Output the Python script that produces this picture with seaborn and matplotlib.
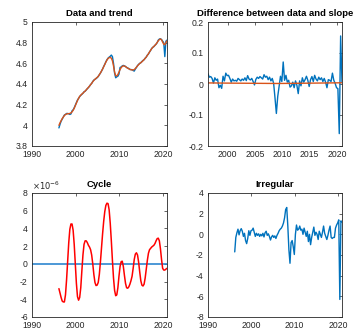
import numpy as np
import pandas as pd
import matplotlib
matplotlib.use("Agg")
import matplotlib.pyplot as plt
import seaborn as sns

# ---------------- data (quarterly, 1996Q1 .. 2020Q4) ----------------
first_date = 1996 + 2 / 12
n_quarters = 100

data_level = [
    3.975, 4.010, 4.040, 4.060, 4.080, 4.100, 4.105, 4.115, 4.115, 4.112,
    4.105, 4.110, 4.140, 4.150, 4.170, 4.195, 4.220, 4.245, 4.260, 4.278,
    4.290, 4.300, 4.310, 4.325, 4.330, 4.342, 4.355, 4.365, 4.378, 4.395,
    4.405, 4.425, 4.438, 4.445, 4.452, 4.462, 4.472, 4.490, 4.505, 4.525,
    4.545, 4.570, 4.590, 4.615, 4.635, 4.650, 4.660, 4.668, 4.680, 4.665,
    4.600, 4.505, 4.460, 4.470, 4.475, 4.495, 4.560, 4.565, 4.575, 4.580,
    4.575, 4.570, 4.560, 4.555, 4.550, 4.540, 4.540, 4.538, 4.530, 4.525,
    4.545, 4.560, 4.578, 4.590, 4.600, 4.605, 4.618, 4.628, 4.635, 4.650,
    4.660, 4.680, 4.690, 4.710, 4.725, 4.745, 4.755, 4.762, 4.775, 4.785,
    4.800, 4.825, 4.835, 4.838, 4.830, 4.815, 4.800, 4.665, 4.815, 4.825,
]

trend_level = [
    4.000, 4.025, 4.045, 4.065, 4.080, 4.095, 4.105, 4.110, 4.112, 4.113,
    4.115, 4.120, 4.130, 4.145, 4.165, 4.190, 4.215, 4.240, 4.262, 4.280,
    4.292, 4.302, 4.312, 4.322, 4.332, 4.343, 4.355, 4.367, 4.380, 4.393,
    4.407, 4.422, 4.435, 4.446, 4.455, 4.463, 4.475, 4.490, 4.507, 4.525,
    4.545, 4.567, 4.590, 4.612, 4.632, 4.647, 4.655, 4.657, 4.650, 4.625,
    4.575, 4.515, 4.480, 4.478, 4.492, 4.515, 4.540, 4.558, 4.570, 4.575,
    4.574, 4.568, 4.560, 4.553, 4.547, 4.542, 4.538, 4.536, 4.536, 4.540,
    4.550, 4.563, 4.576, 4.588, 4.598, 4.607, 4.615, 4.625, 4.636, 4.648,
    4.662, 4.677, 4.693, 4.710, 4.727, 4.742, 4.755, 4.765, 4.775, 4.787,
    4.802, 4.818, 4.830, 4.836, 4.828, 4.805, 4.785, 4.780, 4.800, 4.818,
]

# difference of data (1996Q2 .. 2020Q4)
data_diff = [
    0.033, 0.022, 0.024, 0.018, 0.003, 0.020, 0.012, 0.016, -0.012, -0.004,
    -0.014, 0.025, 0.010, 0.035, 0.027, 0.028, 0.018, 0.006, 0.016, 0.010,
    0.012, 0.009, 0.018, 0.014, 0.010, 0.016, 0.012, 0.020, 0.011, 0.027,
    0.016, 0.013, 0.018, 0.008, -0.003, 0.015, 0.022, 0.018, 0.024, 0.020,
    0.016, 0.030, 0.022, 0.025, 0.014, 0.022, 0.010, 0.018, 0.002, -0.045,
    -0.095, -0.040, -0.008, 0.025, 0.008, 0.071, 0.012, 0.028, 0.006, 0.012,
    -0.010, -0.006, 0.006, -0.012, 0.010, -0.004, -0.031, 0.010, -0.006, 0.020,
    0.006, 0.014, 0.025, 0.012, -0.008, 0.014, 0.024, 0.008, 0.028, 0.016,
    0.010, 0.022, 0.014, 0.020, 0.008, 0.018, 0.006, -0.012, 0.014, 0.012,
    0.008, 0.035, 0.012, 0.002, -0.012, -0.015, -0.160, 0.155, 0.005,
]

slope = [
    0.0035, 0.0035, 0.0034, 0.0034, 0.0033, 0.0033, 0.0032, 0.0032, 0.0031, 0.0031,
    0.0030, 0.0030, 0.0030, 0.0029, 0.0029, 0.0029, 0.0028, 0.0028, 0.0028, 0.0027,
    0.0027, 0.0027, 0.0026, 0.0026, 0.0026, 0.0025, 0.0025, 0.0025, 0.0024, 0.0024,
    0.0024, 0.0023, 0.0023, 0.0023, 0.0022, 0.0022, 0.0022, 0.0021, 0.0021, 0.0021,
    0.0020, 0.0020, 0.0020, 0.0019, 0.0019, 0.0019, 0.0018, 0.0018, 0.0018, 0.0017,
    0.0017, 0.0017, 0.0017, 0.0018, 0.0018, 0.0018, 0.0019, 0.0019, 0.0019, 0.0020,
    0.0020, 0.0021, 0.0021, 0.0022, 0.0022, 0.0023, 0.0023, 0.0024, 0.0024, 0.0025,
    0.0025, 0.0026, 0.0026, 0.0027, 0.0027, 0.0028, 0.0028, 0.0029, 0.0029, 0.0030,
    0.0030, 0.0031, 0.0031, 0.0032, 0.0032, 0.0033, 0.0033, 0.0034, 0.0034, 0.0035,
    0.0035, 0.0036, 0.0036, 0.0037, 0.0037, 0.0038, 0.0038, 0.0038, 0.0039,
]

# cycle, in units of 1e-6
cycle_e6 = [
    -2.8, -3.3, -3.8, -4.2, -4.3, -4.3, -3.5, -1.8, 0.3, 2.4,
    3.9, 4.5, 4.5, 3.8, 2.2, 0.0, -2.2, -3.7, -4.1, -3.8,
    -2.7, -0.8, 1.0, 2.2, 2.6, 2.6, 2.4, 2.1, 1.9, 1.6,
    1.0, 0.0, -1.2, -2.1, -2.45, -2.4, -2.1, -1.2, 0.2, 1.8,
    3.4, 4.8, 5.9, 6.6, 6.85, 6.8, 6.1, 4.6, 2.6, 0.4,
    -1.6, -3.0, -3.6, -3.5, -2.7, -1.4, -0.3, 0.25, 0.3, -0.3,
    -1.3, -2.2, -2.7, -2.75, -2.6, -2.3, -1.9, -1.4, -0.5, 0.5,
    1.1, 1.25, 1.0, 0.2, -0.9, -1.9, -2.4, -2.5, -2.3, -1.6,
    -0.6, 0.4, 1.2, 1.6, 1.75, 1.9, 2.0, 2.1, 2.3, 2.6,
    2.85, 2.9, 2.6, 1.7, 0.5, -0.5, -0.7, -0.7, -0.6, -0.5,
]

irregular = [
    -1.7, -0.3, 0.15, 0.5, -0.05, 0.35, 0.55, 0.3, -0.2, 0.1,
    -0.6, -0.9, -0.4, 0.35, -0.1, 0.35, 0.4, 0.6, 0.2, -0.2,
    0.1, -0.1, 0.05, -0.2, 0.0, -0.15, 0.1, -0.25, 0.15, 0.3,
    -0.1, 0.05, -0.2, -0.55, -0.25, -0.1, -0.3, -0.15, -0.4, -0.1,
    0.1, 0.35, 0.5, 0.6, 0.8, 1.1, 1.6, 2.4, 2.6, 0.8,
    -1.5, -2.8, -0.8, -0.6, -1.2, -1.95, 0.0, 0.9, 0.4, 0.5,
    0.8, 0.4, 0.5, 0.0, 0.6, 0.2, -0.2, 0.3, -0.7, 0.0,
    -1.0, -0.3, 0.2, 0.7, -0.1, 0.2, 0.0, -0.5, 0.3, 0.0,
    -0.3, 0.2, 0.8, 0.1, -0.2, -0.5, -0.1, 0.4, 0.8, -0.3,
    -0.4, -0.3, -0.3, 0.6, 0.9, 1.1, 1.4, -6.3, 1.3, 1.2,
]

titles = ["Data and trend", "Difference between data and slope", "Cycle", "Irregular"]

# ---------------- style ----------------
sns.set_style("white")
plt.rcParams["font.family"] = ["Liberation Sans", "DejaVu Sans"]
plt.rcParams["axes.unicode_minus"] = False

BLUE = "#0072BD"
ORANGE = "#D95319"
RED = "#FF0000"
AXC = "#262626"

dates = first_date + 0.25 * np.arange(n_quarters)
df = pd.DataFrame({"date": dates, "data": data_level, "trend": trend_level,
                   "cycle": np.array(cycle_e6) * 1e-6, "irregular": irregular})
df_d = pd.DataFrame({"date": dates[1:], "diff": data_diff, "slope": slope})

fig = plt.figure(figsize=(3.55, 3.29), dpi=100)
W, H = 355, 329
def add_ax(l, r, t, b):
    return fig.add_axes([l / W, 1 - b / H, (r - l) / W, (b - t) / H])

ax1 = add_ax(32, 167, 22, 146)
ax2 = add_ax(208, 342, 22, 146)
ax3 = add_ax(32, 167, 193, 317)
ax4 = add_ax(208, 342, 193, 317)

sns.lineplot(data=df, x="date", y="data", ax=ax1, color=BLUE, lw=1.0)
sns.lineplot(data=df, x="date", y="trend", ax=ax1, color=ORANGE, lw=1.0)
ax1.set_xlim(1990, dates[-1])
ax1.set_ylim(3.8, 5)
ax1.set_xticks([1990, 2000, 2010, 2020])
ax1.set_yticks([3.8, 4, 4.2, 4.4, 4.6, 4.8, 5])
ax1.set_yticklabels(["3.8", "4", "4.2", "4.4", "4.6", "4.8", "5"])

sns.lineplot(data=df_d, x="date", y="diff", ax=ax2, color=BLUE, lw=1.0)
sns.lineplot(data=df_d, x="date", y="slope", ax=ax2, color=ORANGE, lw=1.0)
ax2.set_xlim(dates[1], dates[-1])
ax2.set_ylim(-0.2, 0.2)
ax2.set_xticks([2000, 2005, 2010, 2015, 2020])
ax2.set_yticks([-0.2, -0.1, 0, 0.1, 0.2])
ax2.set_yticklabels(["-0.2", "-0.1", "0", "0.1", "0.2"])

ax3.axhline(0, color="#2E86D0", lw=1.2, zorder=1)
sns.lineplot(data=df, x="date", y="cycle", ax=ax3, color=RED, lw=1.1, zorder=2)
ax3.set_xlim(1990, dates[-1])
ax3.set_ylim(-6e-6, 8e-6)
ax3.set_xticks([1990, 2000, 2010, 2020])
ax3.set_yticks(np.arange(-6, 9, 2) * 1e-6)
ax3.set_yticklabels([str(v) for v in range(-6, 9, 2)])
ax3.text(0.0, 1.01, r"$\times10^{-6}$", transform=ax3.transAxes, fontsize=6,
         color=AXC, ha="left", va="bottom")

sns.lineplot(data=df, x="date", y="irregular", ax=ax4, color=BLUE, lw=1.0)
ax4.set_xlim(1990, dates[-1])
ax4.set_ylim(-8, 4)
ax4.set_xticks([1990, 2000, 2010, 2020])
ax4.set_yticks([-8, -6, -4, -2, 0, 2, 4])

for ax, t in zip([ax1, ax2, ax3, ax4], titles):
    ax.set_title(t, fontsize=6.8, fontweight="bold", pad=4, color="black")
    ax.set_xlabel("")
    ax.set_ylabel("")
    ax.tick_params(direction="in", length=2.5, width=0.5, labelsize=6.2,
                   colors=AXC, top=True, right=True)
    ax.tick_params(axis="x", pad=3)
    ax.tick_params(axis="y", pad=3)
    for s in ax.spines.values():
        s.set_color(AXC)
        s.set_linewidth(0.6)
    ax.grid(False)

fig.savefig("out.png", dpi=100)
